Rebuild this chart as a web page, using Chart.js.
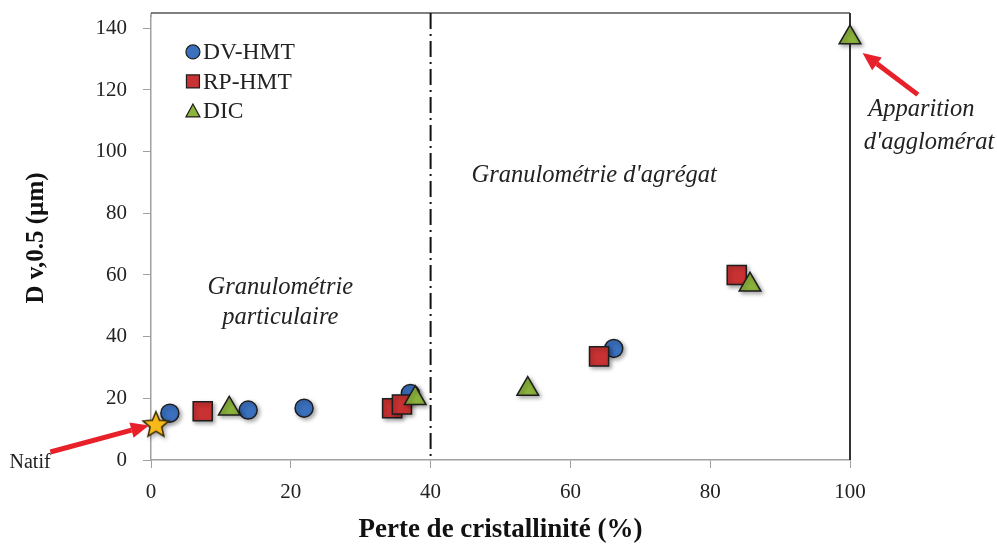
<!DOCTYPE html>
<html>
<head>
<meta charset="utf-8">
<script src="https://cdn.jsdelivr.net/npm/chart.js@4"></script>
<style>
  html, body { margin: 0; padding: 0; background: #fff; }
  #wrap { width: 997px; height: 547px; }
</style>
</head>
<body>
<div id="wrap"><canvas id="chart" width="997" height="547"></canvas></div>
<script>
// values
const dvX = [2.7, 13.9, 21.9, 37.1, 66.2];
const dvY = [15.2, 16.2, 16.8, 21.6, 36.2];
const rpX = [7.4, 34.5, 35.9, 64.1, 83.8];
const rpY = [15.8, 16.8, 18.0, 33.6, 60.0];
const dicX = [11.2, 37.8, 53.9, 85.7, 100];
const dicY = [16.6, 20.0, 23.0, 56.8, 137.0];
const natifX = [0.7];
const natifY = [11.6];
const xTicks = [0, 20, 40, 60, 80, 100];
const yTicks = [0, 20, 40, 60, 80, 100, 120, 140];
const frameTop = 145; // plot frame sits a bit above the last tick

const seriesNames = ['DV-HMT', 'RP-HMT', 'DIC'];
const seriesColors = ['#3a70be', '#c93232', '#8cb43c'];
const seriesStyles = ['circle', 'rect', 'triangle'];
const outline = '#1e1e1e';

function toPoints(xs, ys) {
    return xs.map((x, i) => ({ x: x, y: ys[i] }));
}

// five-point star, chart.js only has the asterisk one
function makeStar(size) {
    const c = document.createElement('canvas');
    c.width = size; c.height = size;
    const g = c.getContext('2d');
    const cx = size / 2, cy = size / 2 + 1;
    const R = size / 2 - 1.5, r = R * 0.45;
    g.beginPath();
    for (let i = 0; i < 10; i++) {
        const rad = i % 2 === 0 ? R : r;
        const a = -Math.PI / 2 + i * Math.PI / 5;
        g.lineTo(cx + rad * Math.cos(a), cy + rad * Math.sin(a));
    }
    g.closePath();
    g.fillStyle = '#f6b91a';
    g.fill();
    g.lineWidth = 1.5;
    g.strokeStyle = '#3b2a00';
    g.stroke();
    return c;
}

function arrow(ctx, x1, y1, x2, y2) {
    const a = Math.atan2(y2 - y1, x2 - x1);
    const head = 18, half = 8;
    const bx = x2 - head * Math.cos(a), by = y2 - head * Math.sin(a);
    ctx.save();
    ctx.strokeStyle = '#e8202a';
    ctx.fillStyle = '#e8202a';
    ctx.lineWidth = 5;
    ctx.beginPath();
    ctx.moveTo(x1, y1);
    ctx.lineTo(bx, by);
    ctx.stroke();
    ctx.beginPath();
    ctx.moveTo(x2, y2);
    ctx.lineTo(bx + half * Math.sin(a), by - half * Math.cos(a));
    ctx.lineTo(bx - half * Math.sin(a), by + half * Math.cos(a));
    ctx.closePath();
    ctx.fill();
    ctx.restore();
}

const decorations = {
    id: 'decorations',
    beforeDatasetsDraw(chart) {
        const { ctx, chartArea, scales } = chart;
        const { bottom, left } = chartArea;
        const top = scales.y.getPixelForValue(frameTop);
        ctx.save();
        // y axis line up to the frame
        ctx.strokeStyle = '#a0a0a0';
        ctx.lineWidth = 1.5;
        ctx.beginPath();
        ctx.moveTo(left, chartArea.top + 1);
        ctx.lineTo(left, top);
        ctx.stroke();
        // top frame
        ctx.strokeStyle = '#555';
        ctx.beginPath();
        ctx.moveTo(left, top);
        ctx.lineTo(scales.x.getPixelForValue(100), top);
        ctx.stroke();
        // solid line at 100
        const x100 = scales.x.getPixelForValue(100);
        ctx.strokeStyle = '#333';
        ctx.lineWidth = 2;
        ctx.beginPath();
        ctx.moveTo(x100, top);
        ctx.lineTo(x100, bottom);
        ctx.stroke();
        // dash-dot line at 40
        const x40 = scales.x.getPixelForValue(40);
        ctx.strokeStyle = '#111';
        ctx.lineWidth = 2;
        ctx.setLineDash([16, 5, 2, 5]);
        ctx.beginPath();
        ctx.moveTo(x40, top);
        ctx.lineTo(x40, bottom);
        ctx.stroke();
        ctx.setLineDash([]);
        ctx.restore();
        // soft shadow under the markers
        ctx.save();
        ctx.shadowColor = 'rgba(0,0,0,0.35)';
        ctx.shadowBlur = 4;
        ctx.shadowOffsetX = 2;
        ctx.shadowOffsetY = 2;
    },
    afterDatasetsDraw(chart) {
        chart.ctx.restore();
    },
    afterDraw(chart) {
        const { ctx, chartArea, scales } = chart;
        const px = v => scales.x.getPixelForValue(v);
        const py = v => scales.y.getPixelForValue(v);

        ctx.save();
        ctx.fillStyle = '#222';
        ctx.textAlign = 'center';
        ctx.textBaseline = 'middle';
        ctx.font = 'italic 24.5px "Liberation Serif", serif';
        ctx.fillText("Granulométrie d'agrégat", px(63.4), py(92.1));
        ctx.fillText('Granulométrie', px(18.5), py(55.9));
        ctx.fillText('particulaire', px(18.5), py(46.2));
        ctx.fillText('Apparition', px(110.2), py(113.8));
        ctx.fillText("d'agglomérat", px(111.3), py(102.8));
        ctx.font = '20px "Liberation Serif", serif';
        ctx.fillText('Natif', px(-17.3), py(-1.0));
        ctx.restore();

        arrow(ctx, px(-14.4), py(2.6), px(-0.3), py(11.2));
        arrow(ctx, px(109.7), py(118.5), px(101.8), py(132.0));

        // legend, top left inside the plot
        ctx.save();
        const lx = px(6), ly = py(frameTop) + 39;
        ctx.font = '23.5px "Liberation Serif", serif';
        ctx.textBaseline = 'middle';
        ctx.textAlign = 'left';
        seriesNames.forEach((name, i) => {
            const y = ly + i * 29.5;
            ctx.fillStyle = seriesColors[i];
            ctx.strokeStyle = outline;
            ctx.lineWidth = 1.2;
            ctx.beginPath();
            if (seriesStyles[i] === 'circle') {
                ctx.arc(lx, y, 7, 0, Math.PI * 2);
            } else if (seriesStyles[i] === 'rect') {
                ctx.rect(lx - 6.5, y - 6.5, 13, 13);
            } else {
                ctx.moveTo(lx, y - 7);
                ctx.lineTo(lx + 7, y + 6);
                ctx.lineTo(lx - 7, y + 6);
                ctx.closePath();
            }
            ctx.fill();
            ctx.stroke();
            ctx.fillStyle = '#222';
            ctx.fillText(name, lx + 10, y + 1);
        });
        ctx.restore();
    }
};

const ctx = document.getElementById('chart').getContext('2d');
new Chart(ctx, {
    type: 'scatter',
    data: {
        datasets: [
            {
                label: seriesNames[0],
                data: toPoints(dvX, dvY),
                order: 4, // circles at the back, like the original
                pointStyle: 'circle',
                pointRadius: 9,
                backgroundColor: seriesColors[0],
                borderColor: outline,
                borderWidth: 1.5,
                clip: false
            },
            {
                label: seriesNames[1],
                data: toPoints(rpX, rpY),
                order: 3,
                pointStyle: 'rect',
                pointRadius: 13.5,
                backgroundColor: seriesColors[1],
                borderColor: outline,
                borderWidth: 1.5,
                clip: false
            },
            {
                label: seriesNames[2],
                data: toPoints(dicX, dicY),
                order: 2,
                pointStyle: 'triangle',
                pointRadius: 12.5,
                backgroundColor: seriesColors[2],
                borderColor: outline,
                borderWidth: 1.5,
                clip: false
            },
            {
                label: 'Natif',
                data: toPoints(natifX, natifY),
                order: 1,
                pointStyle: makeStar(30),
                pointRadius: 15,
                clip: false
            }
        ]
    },
    options: {
        responsive: false,
        animation: false,
        events: [],
        layout: { padding: { left: 0, right: 147, top: 0, bottom: 0 } },
        plugins: {
            legend: { display: false },
            tooltip: { enabled: false }
        },
        scales: {
            x: {
                type: 'linear',
                min: 0,
                max: 100,
                afterBuildTicks: s => { s.ticks = xTicks.map(v => ({ value: v })); },
                afterFit: s => { s.height = 87; s.paddingLeft = 0; s.paddingRight = 0; },
                grid: { drawOnChartArea: false, drawTicks: true, tickLength: 8, color: '#a0a0a0' },
                border: { color: '#a0a0a0', width: 1.5 },
                ticks: {
                    padding: 12,
                    color: '#222',
                    font: { family: '"Liberation Serif", serif', size: 21 }
                },
                title: {
                    display: true,
                    text: 'Perte de cristallinité (%)',
                    color: '#111',
                    padding: { top: 0, bottom: 1 },
                    font: { family: '"Liberation Serif", serif', size: 27, weight: 'bold' }
                }
            },
            y: {
                type: 'linear',
                min: 0,
                max: 144,
                afterBuildTicks: s => { s.ticks = yTicks.map(v => ({ value: v })); },
                afterFit: s => { s.width = 151; s.paddingTop = 0; s.paddingBottom = 0; },
                grid: { drawOnChartArea: false, drawTicks: true, tickLength: 8, color: '#a0a0a0' },
                border: { color: '#a0a0a0', width: 1.5 },
                ticks: {
                    padding: 16,
                    color: '#222',
                    font: { family: '"Liberation Serif", serif', size: 21 }
                },
                title: {
                    display: true,
                    text: 'D v,0.5 (µm)',
                    color: '#111',
                    padding: { top: 22, bottom: 0 },
                    font: { family: '"Liberation Serif", serif', size: 25, weight: 'bold' }
                }
            }
        }
    },
    plugins: [decorations]
});
</script>
</body>
</html>
